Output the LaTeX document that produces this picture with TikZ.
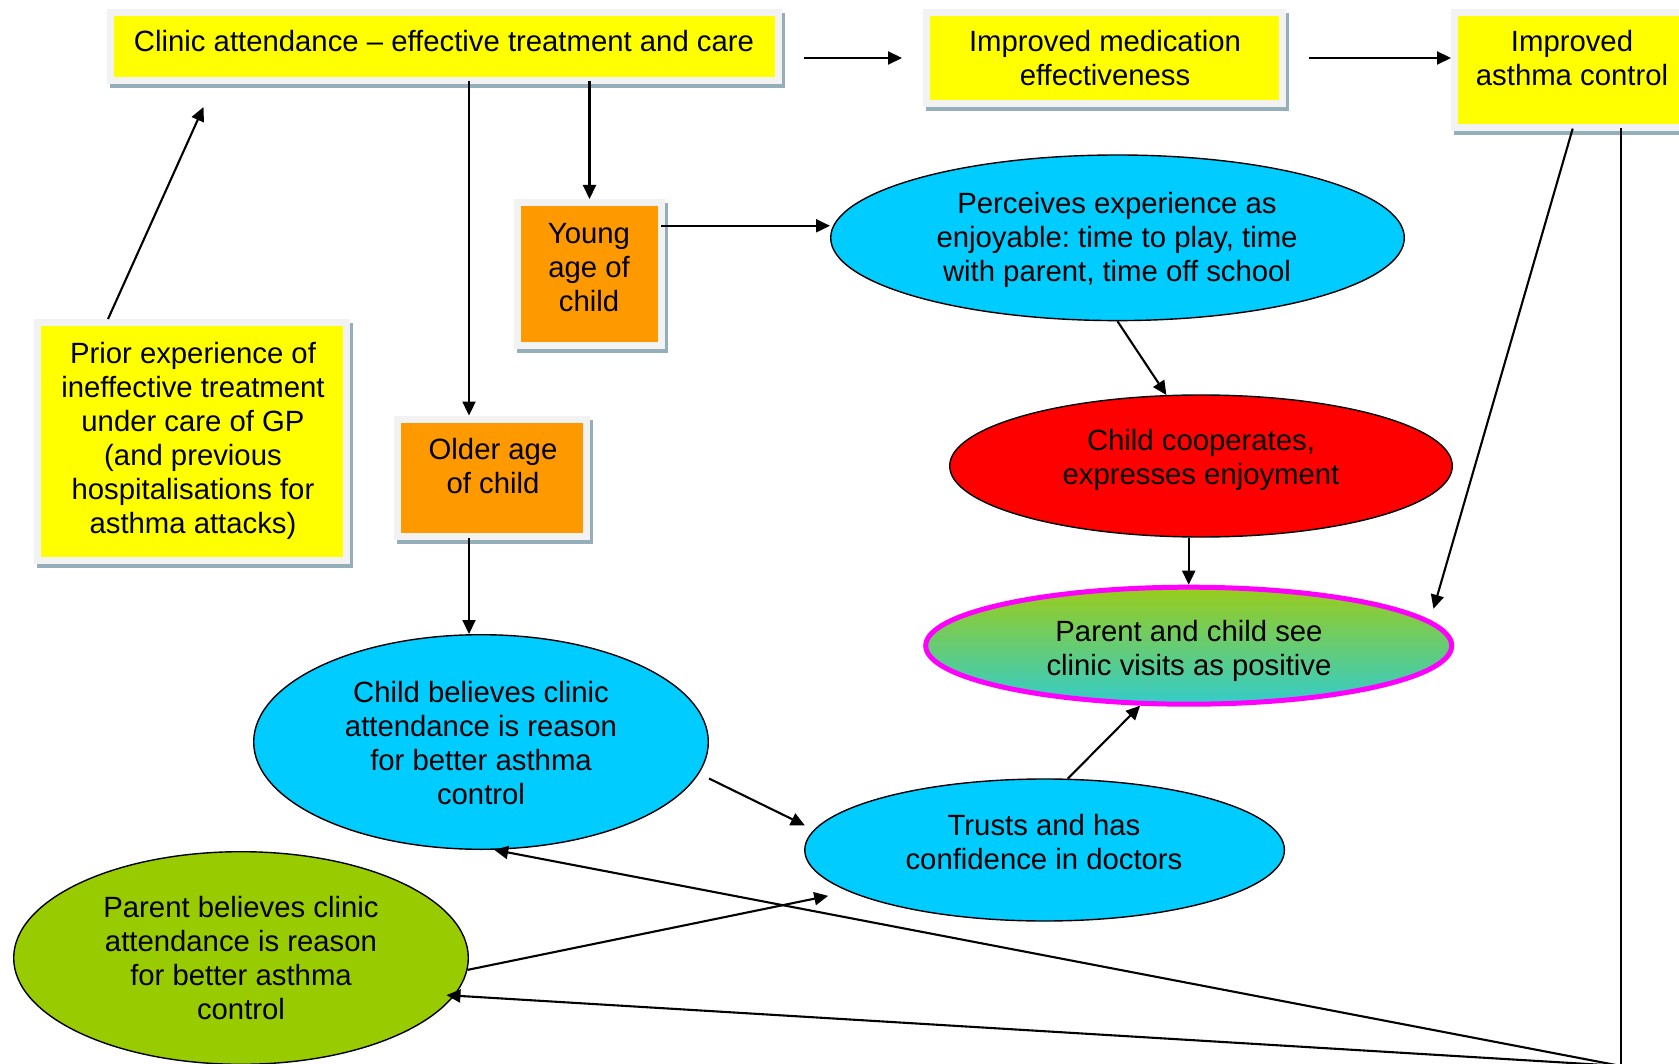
\documentclass[tikz,border=0pt]{standalone}
\usepackage{fontspec}
\setmainfont{Liberation Sans}
\frenchspacing
\usetikzlibrary{arrows.meta,shapes.geometric}

\definecolor{boxyellow}{HTML}{FFFF00}
\definecolor{boxorange}{HTML}{FF9900}
\definecolor{framegray}{HTML}{F2F2F2}
\definecolor{shadowblue}{HTML}{95AFBA}
\definecolor{skyblue}{HTML}{00CCFF}
\definecolor{leafgreen}{HTML}{99CC00}
\definecolor{tealc}{HTML}{33CCCC}
\definecolor{limec}{HTML}{9ACC1A}
\definecolor{brightred}{HTML}{FF0000}
\definecolor{pinkline}{HTML}{FF00FF}

\begin{document}
\begin{tikzpicture}[x=1pt,y=-1pt,
  every node/.style={inner sep=0pt},
  framed/.style={rectangle, draw=framegray, line width=7pt,
    preaction={draw=shadowblue, fill=shadowblue, line width=7pt,
      transform canvas={shift={(3pt,-4pt)}}}},
  ybox/.style={framed, fill=boxyellow},
  obox/.style={framed, fill=boxorange},
  ell/.style={ellipse, draw=black, line width=1.4pt},
  txt/.style={align=center, font=\fontsize{29.3}{34}\selectfont},
  arr/.style={-{Triangle[length=14pt,width=13pt]}, line width=2.1pt},
  ln/.style={line width=2.1pt}]

\fill[white] (0,0) rectangle (1679,1064);
\useasboundingbox (0,0) rectangle (1679,1064);

% rectangular boxes
\node[ybox, minimum width=668pt, minimum height=68.4pt] (clinic) at (444.5,46.3) {};
\node[ybox, minimum width=356pt, minimum height=91.8pt] (med) at (1104.5,58) {};
\node[ybox, minimum width=235pt, minimum height=115.4pt] (asthma) at (1572,69.8) {};
\node[ybox, minimum width=309pt, minimum height=237.5pt] (prior) at (192,441.3) {};
\node[obox, minimum width=144pt, minimum height=143pt] (young) at (589.5,274) {};
\node[obox, minimum width=189pt, minimum height=117.5pt] (older) at (492,477.8) {};

% ellipses
\node[ell, fill=skyblue, minimum width=573.6pt, minimum height=165.6pt] (perc) at (1117.5,237.8) {};
\node[ell, fill=brightred, minimum width=502.6pt, minimum height=142pt] (coop) at (1201,466) {};
\node[ellipse, draw=pinkline, line width=5pt, top color=limec, bottom color=tealc,
      minimum width=526pt, minimum height=117pt] (pcs) at (1188.7,645.7) {};
\node[ell, fill=skyblue, minimum width=454.6pt, minimum height=214.6pt] (cb) at (481,742) {};
\node[ell, fill=skyblue, minimum width=479.6pt, minimum height=142pt] (tr) at (1044.6,850) {};
\node[ell, fill=leafgreen, minimum width=454.6pt, minimum height=212.6pt] (pb) at (241,958) {};

% texts
\node[txt] (clinic-t) at (444,41) {Clinic attendance -- effective treatment and care};
\node[txt] (med-t) at (1105,58) {Improved medication\\effectiveness};
\node[txt] (asthma-t) at (1572,58) {Improved\\asthma control};
\node[txt] (prior-t) at (193,441) {Prior experience of\\ineffective treatment\\under care of GP\\(and previous\\hospitalisations for\\asthma attacks)};
\node[txt] (young-t) at (589,268) {Young\\age of\\child};
\node[txt] (older-t) at (493,466) {Older age\\of child};
\node[txt] (perc-t) at (1117,240) {Perceives experience as\\enjoyable: time to play, time\\with parent, time off school};
\node[txt] (coop-t) at (1201,460) {Child cooperates,\\expresses enjoyment};
\node[txt] (pcs-t) at (1189,651) {Parent and child see\\clinic visits as positive};
\node[txt] (cb-t) at (481,743) {Child believes clinic\\attendance is reason\\for better asthma\\control};
\node[txt] (tr-t) at (1044,842) {Trusts and has\\confidence in doctors};
\node[txt] (pb-t) at (241,958) {Parent believes clinic\\attendance is reason\\for better asthma\\control};

% helper points
\coordinate (oldtop) at ([xshift=-23pt]older.north);
\coordinate (oldbot) at ([xshift=-23pt]older.south);
\coordinate (percw) at ([yshift=12pt]perc.west);
\coordinate (jn) at (1621,1066);

% connectors
\draw[arr, shorten <=22pt, shorten >=21pt] (clinic.east |- med.west) -- (med.west);
\draw[arr, shorten <=22.5pt] (med.east) -- (med.east -| asthma.west);
\draw[arr, shorten <=-3pt] (young.north |- clinic.south) -- (young.north);
\draw[arr, shorten <=-3pt] (oldtop |- clinic.south) -- (oldtop);
\draw[arr] ([xshift=-84pt]prior.north) -- ([xshift=-241pt,yshift=-23pt]clinic.south);
\draw[arr, shorten <=-4pt] (percw -| young.east) -- (percw);
\draw[arr] (perc.south) -- (coop.116);
\draw[arr] (pcs.north |- coop.south) -- (pcs.north);
\draw[arr, shorten <=-2.5pt, shorten >=12pt] (asthma.south) -- (pcs.6);
\draw[ln, shorten <=-2.5pt] ([xshift=49pt]asthma.south) -- (jn);
\draw[arr] (jn) -- (cb.277);
\draw[arr, shorten >=-8pt] (jn) -- (pb.350);
\draw[arr, shorten <=-2.5pt] (oldbot) -- (oldbot |- cb.north);
\draw[arr, shorten >=10pt] ([yshift=-36.5pt]cb.east) -- (tr.175);
\draw[arr] (tr.72) -- (pcs.231);
\draw[arr, shorten >=21pt] (pb.357) -- (tr.192);
\end{tikzpicture}
\end{document}
